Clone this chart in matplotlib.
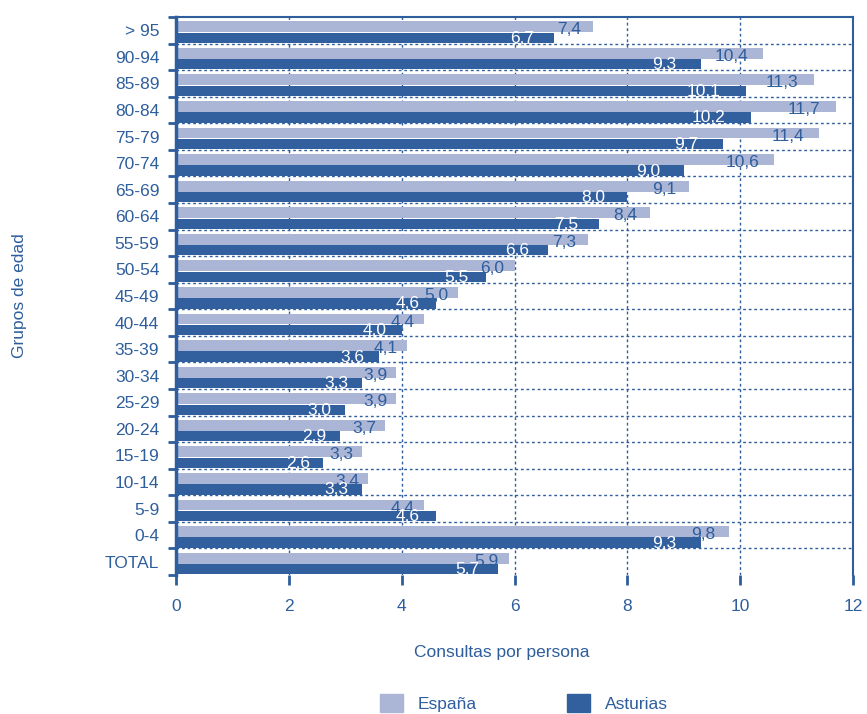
import numpy as np
import matplotlib
matplotlib.use('Agg')
import matplotlib.pyplot as plt
from matplotlib.patches import Patch

# datos
grupos = ['> 95', '90-94', '85-89', '80-84', '75-79', '70-74', '65-69', '60-64',
          '55-59', '50-54', '45-49', '40-44', '35-39', '30-34', '25-29', '20-24',
          '15-19', '10-14', '5-9', '0-4', 'TOTAL']
espana = [7.4, 10.4, 11.3, 11.7, 11.4, 10.6, 9.1, 8.4, 7.3, 6.0, 5.0, 4.4, 4.1,
          3.9, 3.9, 3.7, 3.3, 3.4, 4.4, 9.8, 5.9]
asturias = [6.7, 9.3, 10.1, 10.2, 9.7, 9.0, 8.0, 7.5, 6.6, 5.5, 4.6, 4.0, 3.6,
            3.3, 3.0, 2.9, 2.6, 3.3, 4.6, 9.3, 5.7]
xticks = [0, 2, 4, 6, 8, 10, 12]

c_claro = '#ABB5D6'
c_oscuro = '#325F9E'
c_texto = '#2E5E9C'

plt.rcParams['font.family'] = ['Liberation Sans', 'DejaVu Sans']
plt.rcParams['font.size'] = 12.5

fig = plt.figure(figsize=(8.67, 7.14), dpi=100)
ax = fig.add_axes([176/867, 1-575/714, (853-176)/867, (575-17)/714])

n = len(grupos)
y = np.arange(n)

ax.barh(y + 0.365, espana, height=0.41, color=c_claro, zorder=2)
ax.barh(y + 0.78, asturias, height=0.39, color=c_oscuro, zorder=2)

# etiquetas de valores
for i in range(n):
    ax.text(espana[i] * 0.985 - 0.1, i + 0.48, f'{espana[i]:.1f}'.replace('.', ','),
            ha='right', va='center', color=c_texto, zorder=3)
    ax.text(asturias[i] * 0.97 - 0.15, i + 0.80, f'{asturias[i]:.1f}'.replace('.', ','),
            ha='right', va='center', color='white', zorder=3)

ax.set_xlim(0, 12)
ax.set_ylim(n, 0)
ax.set_xticks(xticks)
ax.set_xticklabels([str(v) for v in xticks])

# ticks en los limites de grupo, etiquetas en el centro
ax.set_yticks(np.arange(n + 1))
ax.set_yticklabels([])
ax.set_yticks(y + 0.5, minor=True)
ax.set_yticklabels(grupos, minor=True)
ax.tick_params(axis='y', which='major', length=6, width=2, color=c_texto)
ax.tick_params(axis='y', which='minor', length=0, pad=12, labelcolor=c_texto)
ax.tick_params(axis='x', length=7, width=2, color=c_texto, pad=10, labelcolor=c_texto)

# rejilla punteada
for v in xticks[1:-1]:
    ax.axvline(v, color=c_texto, lw=1, ls=(0, (2, 2)), zorder=1)
for b in range(1, n):
    ax.axhline(b, color=c_texto, lw=1, ls=(0, (2, 2)), zorder=1)

ax.spines['bottom'].set_visible(False)
ax.spines['left'].set_color(c_texto)
ax.spines['left'].set_linewidth(2.5)
ax.spines['right'].set_color(c_texto)
ax.spines['right'].set_linewidth(1.5)
ax.spines['top'].set_color(c_texto)
ax.spines['top'].set_linewidth(1.5)

ax.set_xlabel('Consultas por persona', color=c_texto)
ax.xaxis.set_label_coords((502-176)/(853-176), -(645-575)/(575-17))
ax.set_ylabel('Grupos de edad', color=c_texto)
ax.yaxis.set_label_coords(-(176-27)/(853-176), 0.5)

handles = [Patch(color=c_claro, label='España'), Patch(color=c_oscuro, label='Asturias')]
fig.legend(handles=handles, loc='center', bbox_to_anchor=(524/867, 1-703/714), ncol=2,
           frameon=False, handlelength=1.3, handleheight=1.3, handletextpad=0.85,
           columnspacing=5.2, labelcolor=c_texto)

fig.savefig('out.png', dpi=100)
